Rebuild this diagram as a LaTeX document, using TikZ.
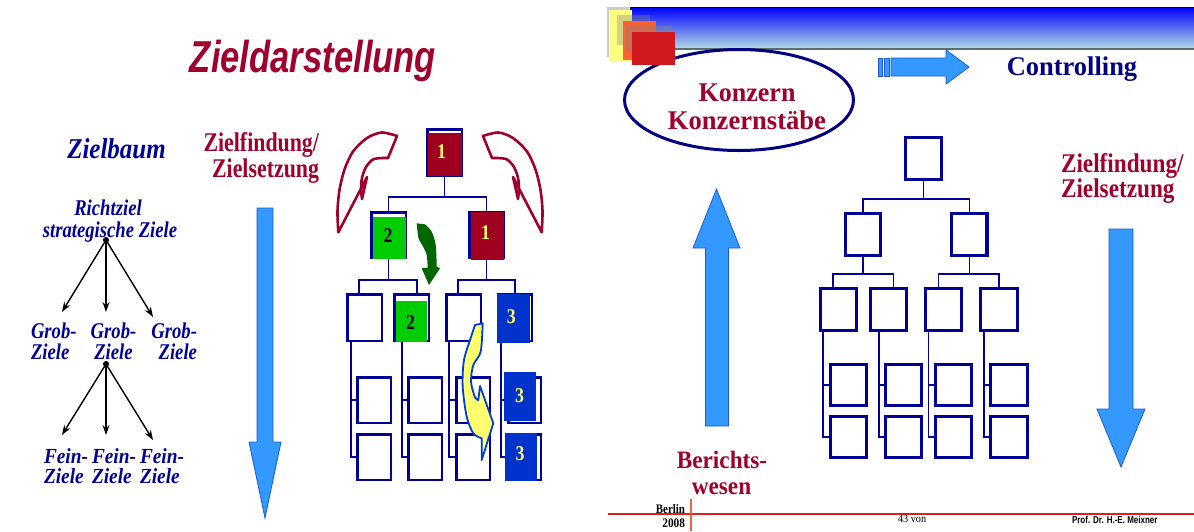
\documentclass[tikz,border=0pt]{standalone}
\usepackage{fontspec}
\setmainfont{Liberation Serif}
\setsansfont{Liberation Sans}
\usepackage{graphicx}
\usetikzlibrary{calc,arrows.meta,shapes.geometric}

\definecolor{wine}{RGB}{160,0,45}
\definecolor{navy}{RGB}{0,0,153}
\definecolor{navyd}{RGB}{0,0,128}
\definecolor{boxred}{RGB}{160,0,32}
\definecolor{boxgreen}{RGB}{0,204,0}
\definecolor{boxblue}{RGB}{0,51,204}
\definecolor{digit}{RGB}{255,255,102}
\definecolor{skyarrow}{RGB}{51,153,255}
\definecolor{skyedge}{RGB}{30,90,210}
\definecolor{leaf}{RGB}{0,102,0}
\definecolor{lemon}{RGB}{255,255,110}
\definecolor{lemonedge}{RGB}{0,60,220}
\definecolor{footred}{RGB}{225,30,30}
\definecolor{footorange}{RGB}{240,100,60}
\definecolor{bartop}{RGB}{0,0,255}
\definecolor{barbottom}{RGB}{180,222,228}
\definecolor{barline}{RGB}{90,110,110}
\definecolor{logoyellow}{RGB}{255,255,128}
\definecolor{logoorange}{RGB}{255,96,48}
\definecolor{logored}{RGB}{208,24,30}

\newcommand{\sx}[2]{\scalebox{#1}[1]{#2}}
\newcommand{\fs}[1]{\fontsize{#1}{#1}\selectfont}
% two-line label, baseline at the first line: column type, line 1, line 2
\newcommand{\twoline}[3]{\begin{tabular}[t]{@{}#1@{}}#2\\#3\end{tabular}}
% box node from its outer corners: style, line width, name, x1, y1, x2, y2
\newcommand{\mkbox}[7]{\node[#1, minimum width={(#6)-(#4)-(#2)}, minimum height={(#7)-(#5)-(#2)}] (#3) at ({((#4)+(#6))/2},{((#5)+(#7))/2}) {};}

\begin{document}
\begin{tikzpicture}[x=1pt,y=-1pt,
  txt/.style={inner sep=0pt, outer sep=0pt, anchor=base},
  lbox/.style={draw=navy, line width=2.5pt, fill=white, inner sep=0pt, rectangle},
  rbox/.style={draw=navy, line width=3.2pt, fill=white, inner sep=0pt, rectangle},
  lconn/.style={draw=navy, line width=1.3pt},
  rconn/.style={draw=navy, line width=1.5pt},
  bigarrow/.style={fill=skyarrow, draw=skyedge, line width=0.8pt, line join=miter},
  tree/.style={draw=black, line width=1.4pt, -{Stealth[length=10pt,width=7pt]}},
  num/.style={inner sep=0pt, font=\bfseries\fs{21}},
  redcurve/.style={draw=wine, line width=2.6pt, fill=white, line join=round},
  leftlab/.style={txt, text=navy, font=\bfseries\itshape\fs{22.5}},
  groblab/.style={txt, text=navy, font=\bfseries\itshape\fontsize{22.5}{18.5}\selectfont},
  finelab/.style={txt, text=navy, font=\bfseries\itshape\fontsize{21.5}{16.5}\selectfont},
  redlab/.style={txt, text=wine, font=\bfseries\fs{27}},
]
\useasboundingbox (0,0) rectangle (1194,531);
\fill[white] (0,0) rectangle (1194,531);

%% ===== left slide: Zieldarstellung =====
\node[txt, text=wine, font=\sffamily\bfseries\itshape\fs{44.7}] (title) at (313,72) {\sx{0.774}{Zieldarstellung}};
\node[txt, text=navy, font=\bfseries\itshape\fs{28.7}] (zielbaum) at (116.5,158) {\sx{0.87}{Zielbaum}};
\node[redlab, anchor=base east] (zf1) at (319,151) {\sx{0.81}{Zielfindung/}};
\node[redlab, anchor=base east] (zf2) at (319,177) {\sx{0.81}{Zielsetzung}};

% goal tree
\node[leftlab] (rz1) at (108,215) {\sx{0.83}{Richtziel}};
\node[leftlab] (rz2) at (110,237) {\sx{0.83}{strategische Ziele}};
\node[circle, fill=black, inner sep=0pt, minimum size=6pt] (dot1) at (106,240) {};
\coordinate (ga1) at (62,312);
\coordinate (ga2) at (106,312);
\coordinate (ga3) at (153,317);
\draw[tree] (dot1.center) -- (ga1);
\draw[tree] (dot1.center) -- (ga2);
\draw[tree] (dot1.center) -- (ga3);
\node[groblab, anchor=base west] (g1) at (31,338) {\sx{0.83}{\twoline{l}{Grob-}{Ziele}}};
\node[groblab] (g2) at (113.5,338) {\sx{0.83}{\twoline{c}{Grob-}{Ziele}}};
\node[groblab, anchor=base east] (g3) at (197,338) {\sx{0.83}{\twoline{r}{Grob-}{Ziele}}};
\node[circle, fill=black, inner sep=0pt, minimum size=6pt] (dot2) at (106,364) {};
\coordinate (fa1) at (62,435);
\coordinate (fa2) at (106,435);
\coordinate (fa3) at (153,440);
\draw[tree] (dot2.center) -- (fa1);
\draw[tree] (dot2.center) -- (fa2);
\draw[tree] (dot2.center) -- (fa3);
\node[finelab, anchor=base west] (f1) at (44,463.5) {\sx{0.9}{\twoline{l}{Fein-}{Ziele}}};
\node[finelab, anchor=base west] (f2) at (92,463.5) {\sx{0.9}{\twoline{l}{Fein-}{Ziele}}};
\node[finelab, anchor=base west] (f3) at (140,463.5) {\sx{0.9}{\twoline{l}{Fein-}{Ziele}}};

% downward arrow
\filldraw[bigarrow] (257,208) -- (273,208) -- (273,442) -- (281,442) -- (265,518) -- (249,442) -- (257,442) -- cycle;

% curved red arrows around the top goal
\filldraw[redcurve] (397,136) -- (388,158)
  -- plot[smooth] coordinates {(388,158) (374,159) (366,167) (362,178) (361,189) (362,199)}
  -- (367,177) -- (338.3,232.3)
  -- plot[smooth] coordinates {(338.3,232.3) (337.5,211) (339.5,190) (344.5,169.5) (353,151.5) (367,138) (381.7,132.5) (397,136)}
  -- cycle;
\begin{scope}[xshift=880pt, xscale=-1]
\filldraw[redcurve] (397,136) -- (388,158)
  -- plot[smooth] coordinates {(388,158) (374,159) (366,167) (362,178) (361,189) (362,199)}
  -- (367,177) -- (338.3,232.3)
  -- plot[smooth] coordinates {(338.3,232.3) (337.5,211) (339.5,190) (344.5,169.5) (353,151.5) (367,138) (381.7,132.5) (397,136)}
  -- cycle;
\end{scope}

% goal hierarchy boxes
\mkbox{lbox}{2.5}{t1}{426}{128}{463}{177}
\mkbox{lbox}{2.5}{b21}{370}{211}{407}{259}
\mkbox{lbox}{2.5}{b22}{468}{211}{505}{259}
\mkbox{lbox}{2.5}{b31}{346}{293}{383}{342}
\mkbox{lbox}{2.5}{b32}{393}{293}{430}{342}
\mkbox{lbox}{2.5}{b33}{445}{293}{482}{342}
\mkbox{lbox}{2.5}{b34}{497}{293}{533}{342}
\mkbox{lbox}{2.5}{c1}{356}{376}{392}{424}
\mkbox{lbox}{2.5}{c2}{407}{376}{443}{424}
\mkbox{lbox}{2.5}{c3}{455}{376}{491}{424}
\mkbox{lbox}{2.5}{c4}{507}{376}{542}{424}
\mkbox{lbox}{2.5}{d1}{356}{433}{392}{481}
\mkbox{lbox}{2.5}{d2}{407}{433}{443}{481}
\mkbox{lbox}{2.5}{d3}{455}{433}{491}{481}
\mkbox{lbox}{2.5}{d4}{507}{433}{542}{481}

% connectors
\draw[lconn] (t1.south) -- (t1.south |- 0,197) coordinate (k0);
\draw[lconn] (b21.north) |- (k0) -| (b22.north);
\draw[lconn] (b21.south) -- (b21.south |- 0,280) coordinate (k1);
\coordinate (p31) at (b31.north -| 359,0);
\coordinate (p32) at (b32.north -| 417,0);
\draw[lconn] (p31) |- (k1) -| (p32);
\draw[lconn] (b22.south) -- (b22.south |- 0,280) coordinate (k2);
\coordinate (p33) at (b33.north -| 458,0);
\coordinate (p34) at (b34.north -| 515,0);
\draw[lconn] (p33) |- (k2) -| (p34);
\foreach \up/\a/\b/\xx in {b31/c1/d1/351, b32/c2/d2/402, b33/c3/d3/449, b34/c4/d4/501}{
  \draw[lconn] (\up.south -| \xx,0) |- (\b.west);
  \draw[lconn] (\a.west -| \xx,0) -- (\a.west);
}

% coloured goals
\fill[boxred] (427.5,133) rectangle (461.5,175.5);
\node[num, text=digit] (n1) at (441.5,152) {\sx{0.85}{1}};
\fill[boxgreen] (372.5,217) rectangle (405.5,259);
\node[num, text=black] (n2) at (388,235.5) {\sx{0.85}{2}};
\fill[boxred] (471,212) rectangle (504,259.5);
\node[num, text=digit] (n3) at (485.5,233) {\sx{0.85}{1}};
\fill[boxgreen] (396,301) rectangle (427.3,341.7);
\node[num, text=black] (n4) at (410.5,322.5) {\sx{0.85}{2}};
\fill[boxblue] (497,294) rectangle (529.5,343);
\node[num, text=digit] (n5) at (511.3,316.5) {\sx{0.85}{3}};
\fill[boxblue] (504,372) rectangle (536,421);
\node[num, text=digit] (n6) at (519.5,395.5) {\sx{0.85}{3}};
\fill[boxblue] (505,433) rectangle (537,481);
\node[num, text=digit] (n7) at (520,454) {\sx{0.85}{3}};

% green curved arrow
\fill[leaf] (416.7,223.3) -- (425,224.3)
  -- plot[smooth] coordinates {(425,224.3) (431.7,231.7) (435.7,245) (436.7,266.7)}
  -- (440,268.3) -- (429,285) -- (421.7,268.3) -- (427.7,267.7)
  -- plot[smooth] coordinates {(427.7,267.7) (426.7,255) (423.3,247) (418.5,238) (416.7,223.3)}
  -- cycle;

% yellow curved arrow
\filldraw[fill=lemon, draw=lemonedge, line width=1.8pt, line join=round] (475,325) -- (482.7,323.3)
  -- plot[smooth] coordinates {(482.7,323.3) (480.7,351.7) (473.3,365) (471,381.7) (475,397.3) (478.3,400)}
  -- (480,386) -- (493.3,423.3) -- (481.7,460) -- (481.7,438.3)
  -- plot[smooth] coordinates {(481.7,438.3) (473.3,433.3) (466.7,416.7) (462.7,386.7) (464,360) (471.7,335) (475,325)}
  -- cycle;

%% ===== right slide: Controlling =====
% header band
\shade[top color=bartop, bottom color=barbottom] (630,7) rectangle (1194,49);
\draw[black, line width=1pt] (630,7.5) -- (1194,7.5);
\draw[barline, line width=2pt] (630,48.5) -- (1194,48.5);
\draw[navyd, line width=0.8pt] (630,7) -- (630,49);

% ellipse
\node[draw=navyd, line width=3pt, ellipse, minimum width=229pt, minimum height=101pt, inner sep=0pt] (konz) at (739,100) {};
\node[redlab] (k1t) at (747,101) {\sx{0.965}{Konzern}};
\node[redlab] (k2t) at (747,129) {\sx{0.985}{Konzernstäbe}};

% logo squares
\fill[gray!40] (607,7) rectangle (629,57);
\fill[logoyellow] (609,10) rectangle (632,62);
\fill[gray, opacity=0.35] (617,15) rectangle (650,45);
\fill[logoorange] (623,21) rectangle (656,60);
\fill[gray, opacity=0.4] (626,26) rectangle (671,52);
\fill[logored] (632,32) rectangle (675,65);

% small arrow and Controlling
\filldraw[bigarrow] (878,58) rectangle (882,76);
\filldraw[bigarrow] (884,58) rectangle (889,76);
\filldraw[bigarrow] (891,58) -- (946,58) -- (946,50) -- (969,67) -- (946,84) -- (946,76) -- (891,76) -- cycle;
\node[txt, text=navyd, font=\bfseries\fs{27}] (ctrl) at (1072,75) {\sx{0.98}{Controlling}};

% upward and downward arrows
\filldraw[bigarrow] (705.5,426) -- (705.5,248) -- (693,248) -- (716.5,189) -- (740,248) -- (728.5,248) -- (728.5,426) -- cycle;
\filldraw[bigarrow] (1109,229) -- (1133,229) -- (1133,409) -- (1145,409) -- (1121,467) -- (1097,409) -- (1109,409) -- cycle;

\node[redlab, anchor=base west] (rzf1) at (1061,172) {\sx{0.86}{Zielfindung/}};
\node[redlab, anchor=base west] (rzf2) at (1061,197) {\sx{0.86}{Zielsetzung}};
\node[txt, text=wine, font=\bfseries\fs{25}] (ber1) at (722,468) {\sx{0.93}{Berichts-}};
\node[txt, text=wine, font=\bfseries\fs{25}] (ber2) at (721.5,494) {\sx{0.93}{wesen}};

% organisation chart
\mkbox{rbox}{3.2}{rt}{904}{136}{943}{181}
\mkbox{rbox}{3.2}{r21}{844}{212}{882}{257}
\mkbox{rbox}{3.2}{r22}{950}{212}{988.5}{257}
\mkbox{rbox}{3.2}{e1}{819}{287}{858}{332}
\mkbox{rbox}{3.2}{e2}{869}{287}{908}{332}
\mkbox{rbox}{3.2}{e3}{924}{287}{963}{332}
\mkbox{rbox}{3.2}{e4}{979}{287}{1019}{332}
\mkbox{rbox}{3.2}{h1}{829}{363}{868}{407}
\mkbox{rbox}{3.2}{h2}{884}{363}{923}{407}
\mkbox{rbox}{3.2}{h3}{934}{363}{973}{407}
\mkbox{rbox}{3.2}{h4}{989}{363}{1029}{407}
\mkbox{rbox}{3.2}{j1}{829}{415}{868}{459}
\mkbox{rbox}{3.2}{j2}{884}{415}{923}{459}
\mkbox{rbox}{3.2}{j3}{934}{415}{973}{459}
\mkbox{rbox}{3.2}{j4}{989}{415}{1029}{459}

\draw[rconn] (rt.south) -- (rt.south |- 0,199) coordinate (q0);
\draw[rconn] (r21.north) |- (q0) -| (r22.north);
\draw[rconn] (r21.south) -- (r21.south |- 0,274) coordinate (q1);
\coordinate (s1) at (e1.north -| 833,0);
\coordinate (s2) at (e2.north -| 893.5,0);
\draw[rconn] (s1) |- (q1) -| (s2);
\draw[rconn] (r22.south) -- (r22.south |- 0,274) coordinate (q2);
\coordinate (s3) at (e3.north -| 938.5,0);
\coordinate (s4) at (e4.north -| 999,0);
\draw[rconn] (s3) |- (q2) -| (s4);
\foreach \up/\a/\b/\xx in {e1/h1/j1/823, e2/h2/j2/879, e3/h3/j3/928.5, e4/h4/j4/984}{
  \draw[rconn] (\up.south -| \xx,0) |- (\b.west);
  \draw[rconn] (\a.west -| \xx,0) -- (\a.west);
}

% footer
\draw[footred, line width=1.6pt] (608,514) -- (1194,514);
\draw[footorange, line width=1.2pt] (691,499) -- (691,531);
\node[txt, anchor=base east, font=\bfseries\fs{13}] (berlin) at (685,513) {\sx{0.84}{Berlin}};
\node[txt, anchor=base east, font=\bfseries\fs{13}] (year) at (685,527) {\sx{0.87}{2008}};
\node[txt, anchor=base west, font=\fs{11}] (page) at (898,522) {\sx{0.93}{43 von}};
\node[txt, anchor=base west, font=\sffamily\bfseries\fs{10}] (author) at (1072,523) {\sx{0.8}{Prof. Dr. H.-E. Meixner}};
\end{tikzpicture}
\end{document}
